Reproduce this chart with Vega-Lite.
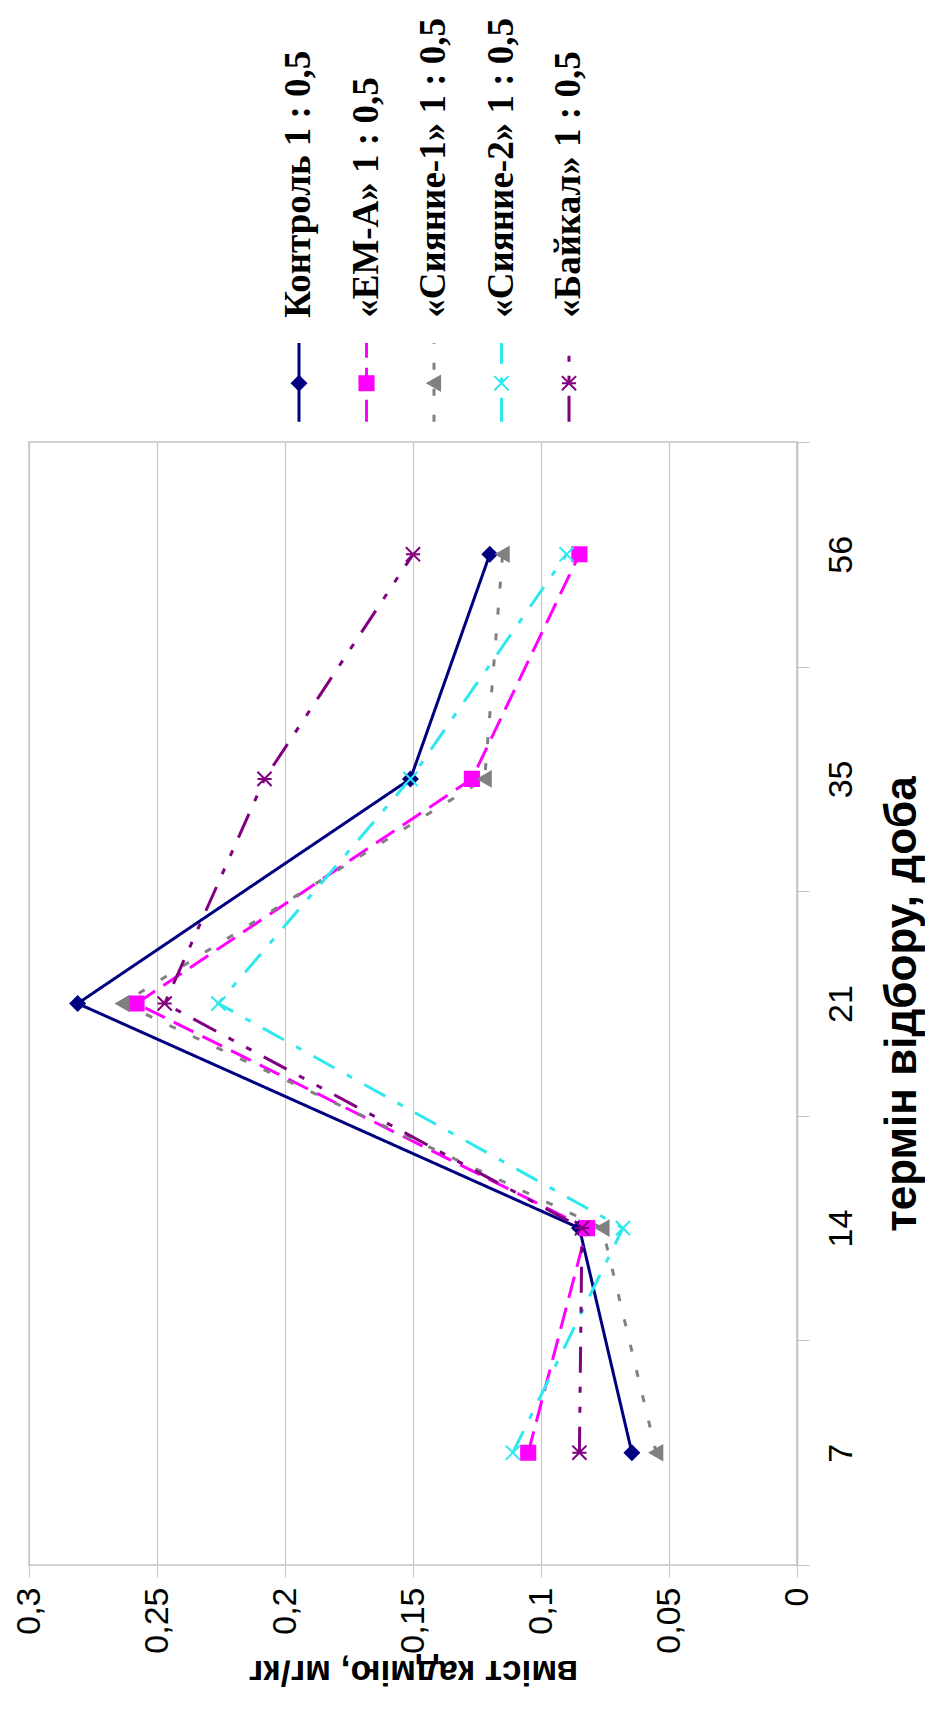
{
  "$schema": "https://vega.github.io/schema/vega-lite/v6.json",
  "padding": {"left": 11, "top": 0, "right": 0, "bottom": 0},
  "autosize": {"type": "pad"},
  "spacing": 0,
  "bounds": "flush",
  "resolve": {"scale": {"x": "independent", "y": "independent"}},
  "config": {
    "font": "Liberation Sans",
    "view": {"stroke": "#c4c4c4", "strokeWidth": 1.5},
    "legend": {"disable": true},
    "axis": {"labelColor": "#000000", "titleColor": "#000000"}
  },
  "datasets": {
    "cd": [
      {"day": 7, "series": "Контроль 1 : 0,5", "value": 0.0645},
      {"day": 14, "series": "Контроль 1 : 0,5", "value": 0.085},
      {"day": 21, "series": "Контроль 1 : 0,5", "value": 0.281},
      {"day": 35, "series": "Контроль 1 : 0,5", "value": 0.151},
      {"day": 56, "series": "Контроль 1 : 0,5", "value": 0.12},
      {"day": 7, "series": "«ЕМ-А» 1 : 0,5", "value": 0.105},
      {"day": 14, "series": "«ЕМ-А» 1 : 0,5", "value": 0.082},
      {"day": 21, "series": "«ЕМ-А» 1 : 0,5", "value": 0.258},
      {"day": 35, "series": "«ЕМ-А» 1 : 0,5", "value": 0.127},
      {"day": 56, "series": "«ЕМ-А» 1 : 0,5", "value": 0.085},
      {"day": 7, "series": "«Сияние-1» 1 : 0,5", "value": 0.055},
      {"day": 14, "series": "«Сияние-1» 1 : 0,5", "value": 0.076},
      {"day": 21, "series": "«Сияние-1» 1 : 0,5", "value": 0.2635},
      {"day": 35, "series": "«Сияние-1» 1 : 0,5", "value": 0.122},
      {"day": 56, "series": "«Сияние-1» 1 : 0,5", "value": 0.115},
      {"day": 7, "series": "«Сияние-2» 1 : 0,5", "value": 0.111},
      {"day": 14, "series": "«Сияние-2» 1 : 0,5", "value": 0.068},
      {"day": 21, "series": "«Сияние-2» 1 : 0,5", "value": 0.226},
      {"day": 35, "series": "«Сияние-2» 1 : 0,5", "value": 0.151},
      {"day": 56, "series": "«Сияние-2» 1 : 0,5", "value": 0.09},
      {"day": 7, "series": "«Байкал» 1 : 0,5", "value": 0.085},
      {"day": 14, "series": "«Байкал» 1 : 0,5", "value": 0.084},
      {"day": 21, "series": "«Байкал» 1 : 0,5", "value": 0.247},
      {"day": 35, "series": "«Байкал» 1 : 0,5", "value": 0.208},
      {"day": 56, "series": "«Байкал» 1 : 0,5", "value": 0.15}
    ],
    "legend": [
      {"series": "Контроль 1 : 0,5"},
      {"series": "«ЕМ-А» 1 : 0,5"},
      {"series": "«Сияние-1» 1 : 0,5"},
      {"series": "«Сияние-2» 1 : 0,5"},
      {"series": "«Байкал» 1 : 0,5"}
    ]
  },
  "vconcat": [
    {
      "width": 768,
      "height": 442,
      "view": {"stroke": null},
      "data": {"name": "legend"},
      "encoding": {
        "x": {"field": "series", "type": "nominal", "sort": null,
              "scale": {"type": "point", "domain": ["Контроль 1 : 0,5", "«ЕМ-А» 1 : 0,5", "«Сияние-1» 1 : 0,5", "«Сияние-2» 1 : 0,5", "«Байкал» 1 : 0,5"], "range": [270, 540], "padding": 0},
              "axis": null}
      },
      "layer": [
        {
          "mark": {"type": "rule", "strokeWidth": 3},
          "encoding": {
            "y": {"datum": 0.046, "type": "quantitative", "scale": {"domain": [0, 1], "nice": false}, "axis": null},
            "y2": {"datum": 0.224},
            "color": {"field": "series", "type": "nominal",
                      "scale": {"domain": ["Контроль 1 : 0,5", "«ЕМ-А» 1 : 0,5", "«Сияние-1» 1 : 0,5", "«Сияние-2» 1 : 0,5", "«Байкал» 1 : 0,5"], "range": ["#000080", "#ff00ff", "#808080", "#2ee8ee", "#800080"]}},
            "strokeDash": {"field": "series", "type": "nominal",
                           "scale": {"domain": ["Контроль 1 : 0,5", "«ЕМ-А» 1 : 0,5", "«Сияние-1» 1 : 0,5", "«Сияние-2» 1 : 0,5", "«Байкал» 1 : 0,5"], "range": [[1, 0], [22, 10], [7, 19], [24, 14, 6, 14], [26, 14, 6, 14, 6, 14]]}}
          }
        },
        {
          "mark": {"type": "point", "size": 200, "strokeWidth": 2, "opacity": 1},
          "encoding": {
            "y": {"datum": 0.133, "type": "quantitative", "scale": {"domain": [0, 1], "nice": false}, "axis": null},
            "shape": {"field": "series", "type": "nominal",
                      "scale": {"domain": ["Контроль 1 : 0,5", "«ЕМ-А» 1 : 0,5", "«Сияние-1» 1 : 0,5", "«Сияние-2» 1 : 0,5", "«Байкал» 1 : 0,5"], "range": ["diamond", "square", "triangle-left", "M-1,-1L1,1M-1,1L1,-1", "M-1,-1L1,1M-1,1L1,-1M-1,0L1,0"]}},
            "fill": {"field": "series", "type": "nominal",
                     "scale": {"domain": ["Контроль 1 : 0,5", "«ЕМ-А» 1 : 0,5", "«Сияние-1» 1 : 0,5", "«Сияние-2» 1 : 0,5", "«Байкал» 1 : 0,5"], "range": ["#000080", "#ff00ff", "#808080", "transparent", "transparent"]}},
            "stroke": {"field": "series", "type": "nominal",
                       "scale": {"domain": ["Контроль 1 : 0,5", "«ЕМ-А» 1 : 0,5", "«Сияние-1» 1 : 0,5", "«Сияние-2» 1 : 0,5", "«Байкал» 1 : 0,5"], "range": ["#000080", "#ff00ff", "#808080", "#2ee8ee", "#800080"]}}
          }
        },
        {
          "mark": {"type": "text", "angle": -90, "align": "left", "baseline": "middle", "font": "Liberation Serif", "fontWeight": "bold", "fontSize": 37, "color": "#000000"},
          "encoding": {
            "y": {"datum": 0.281, "type": "quantitative", "scale": {"domain": [0, 1], "nice": false}, "axis": null},
            "text": {"field": "series", "type": "nominal"}
          }
        }
      ]
    },
    {
      "width": 768,
      "height": 1123,
      "data": {"name": "cd"},
      "encoding": {
        "y": {"field": "day", "type": "ordinal", "sort": "descending", "bandPosition": 0.5,
              "scale": {"type": "band", "paddingInner": 0, "paddingOuter": 0},
              "axis": {"orient": "right", "title": "термін відбору, доба", "grid": false,
                       "tickBand": "extent", "tickSize": 12, "tickColor": "#c4c4c4", "domainColor": "#c4c4c4", "domainWidth": 1.5,
                       "labelAngle": -90, "labelAlign": "center", "labelBaseline": "top", "labelPadding": 15, "labelFontSize": 34,
                       "titleAngle": -90, "titleBaseline": "top", "titleFontSize": 44, "titleFontWeight": "bold", "titlePadding": 22}},
        "x": {"field": "value", "type": "quantitative",
              "scale": {"domain": [0, 0.3], "reverse": true, "nice": false},
              "axis": {"orient": "bottom", "values": [0, 0.05, 0.1, 0.15, 0.2, 0.25, 0.3],
                       "labelExpr": "replace(format(datum.value, '~g'), '.', ',')",
                       "grid": true, "gridColor": "#c8c8c8", "gridWidth": 1.2, "domain": false,
                       "tickSize": 12, "tickColor": "#c8c8c8",
                       "labelAngle": -90, "labelFontSize": 34, "labelPadding": 10,
                       "title": "вміст кадмію, мг/кг", "titleAngle": 180, "titleBaseline": "bottom",
                       "titleFontSize": 35, "titleFontWeight": "bold", "titlePadding": 0}}
      },
      "layer": [
        {
          "mark": {"type": "line", "strokeWidth": 3},
          "encoding": {
            "color": {"field": "series", "type": "nominal",
                      "scale": {"domain": ["Контроль 1 : 0,5", "«ЕМ-А» 1 : 0,5", "«Сияние-1» 1 : 0,5", "«Сияние-2» 1 : 0,5", "«Байкал» 1 : 0,5"], "range": ["#000080", "#ff00ff", "#808080", "#2ee8ee", "#800080"]}},
            "strokeDash": {"field": "series", "type": "nominal",
                           "scale": {"domain": ["Контроль 1 : 0,5", "«ЕМ-А» 1 : 0,5", "«Сияние-1» 1 : 0,5", "«Сияние-2» 1 : 0,5", "«Байкал» 1 : 0,5"], "range": [[1, 0], [31, 17], [7, 19], [30, 20, 6, 20], [32, 20, 7, 20, 7, 20]]}},
            "order": {"field": "day", "type": "quantitative"}
          }
        },
        {
          "mark": {"type": "point", "size": 200, "strokeWidth": 2, "opacity": 1},
          "encoding": {
            "shape": {"field": "series", "type": "nominal",
                      "scale": {"domain": ["Контроль 1 : 0,5", "«ЕМ-А» 1 : 0,5", "«Сияние-1» 1 : 0,5", "«Сияние-2» 1 : 0,5", "«Байкал» 1 : 0,5"], "range": ["diamond", "square", "triangle-left", "M-1,-1L1,1M-1,1L1,-1", "M-1,-1L1,1M-1,1L1,-1M-1,0L1,0"]}},
            "fill": {"field": "series", "type": "nominal",
                     "scale": {"domain": ["Контроль 1 : 0,5", "«ЕМ-А» 1 : 0,5", "«Сияние-1» 1 : 0,5", "«Сияние-2» 1 : 0,5", "«Байкал» 1 : 0,5"], "range": ["#000080", "#ff00ff", "#808080", "transparent", "transparent"]}},
            "stroke": {"field": "series", "type": "nominal",
                       "scale": {"domain": ["Контроль 1 : 0,5", "«ЕМ-А» 1 : 0,5", "«Сияние-1» 1 : 0,5", "«Сияние-2» 1 : 0,5", "«Байкал» 1 : 0,5"], "range": ["#000080", "#ff00ff", "#808080", "#2ee8ee", "#800080"]}}
          }
        }
      ]
    }
  ]
}
